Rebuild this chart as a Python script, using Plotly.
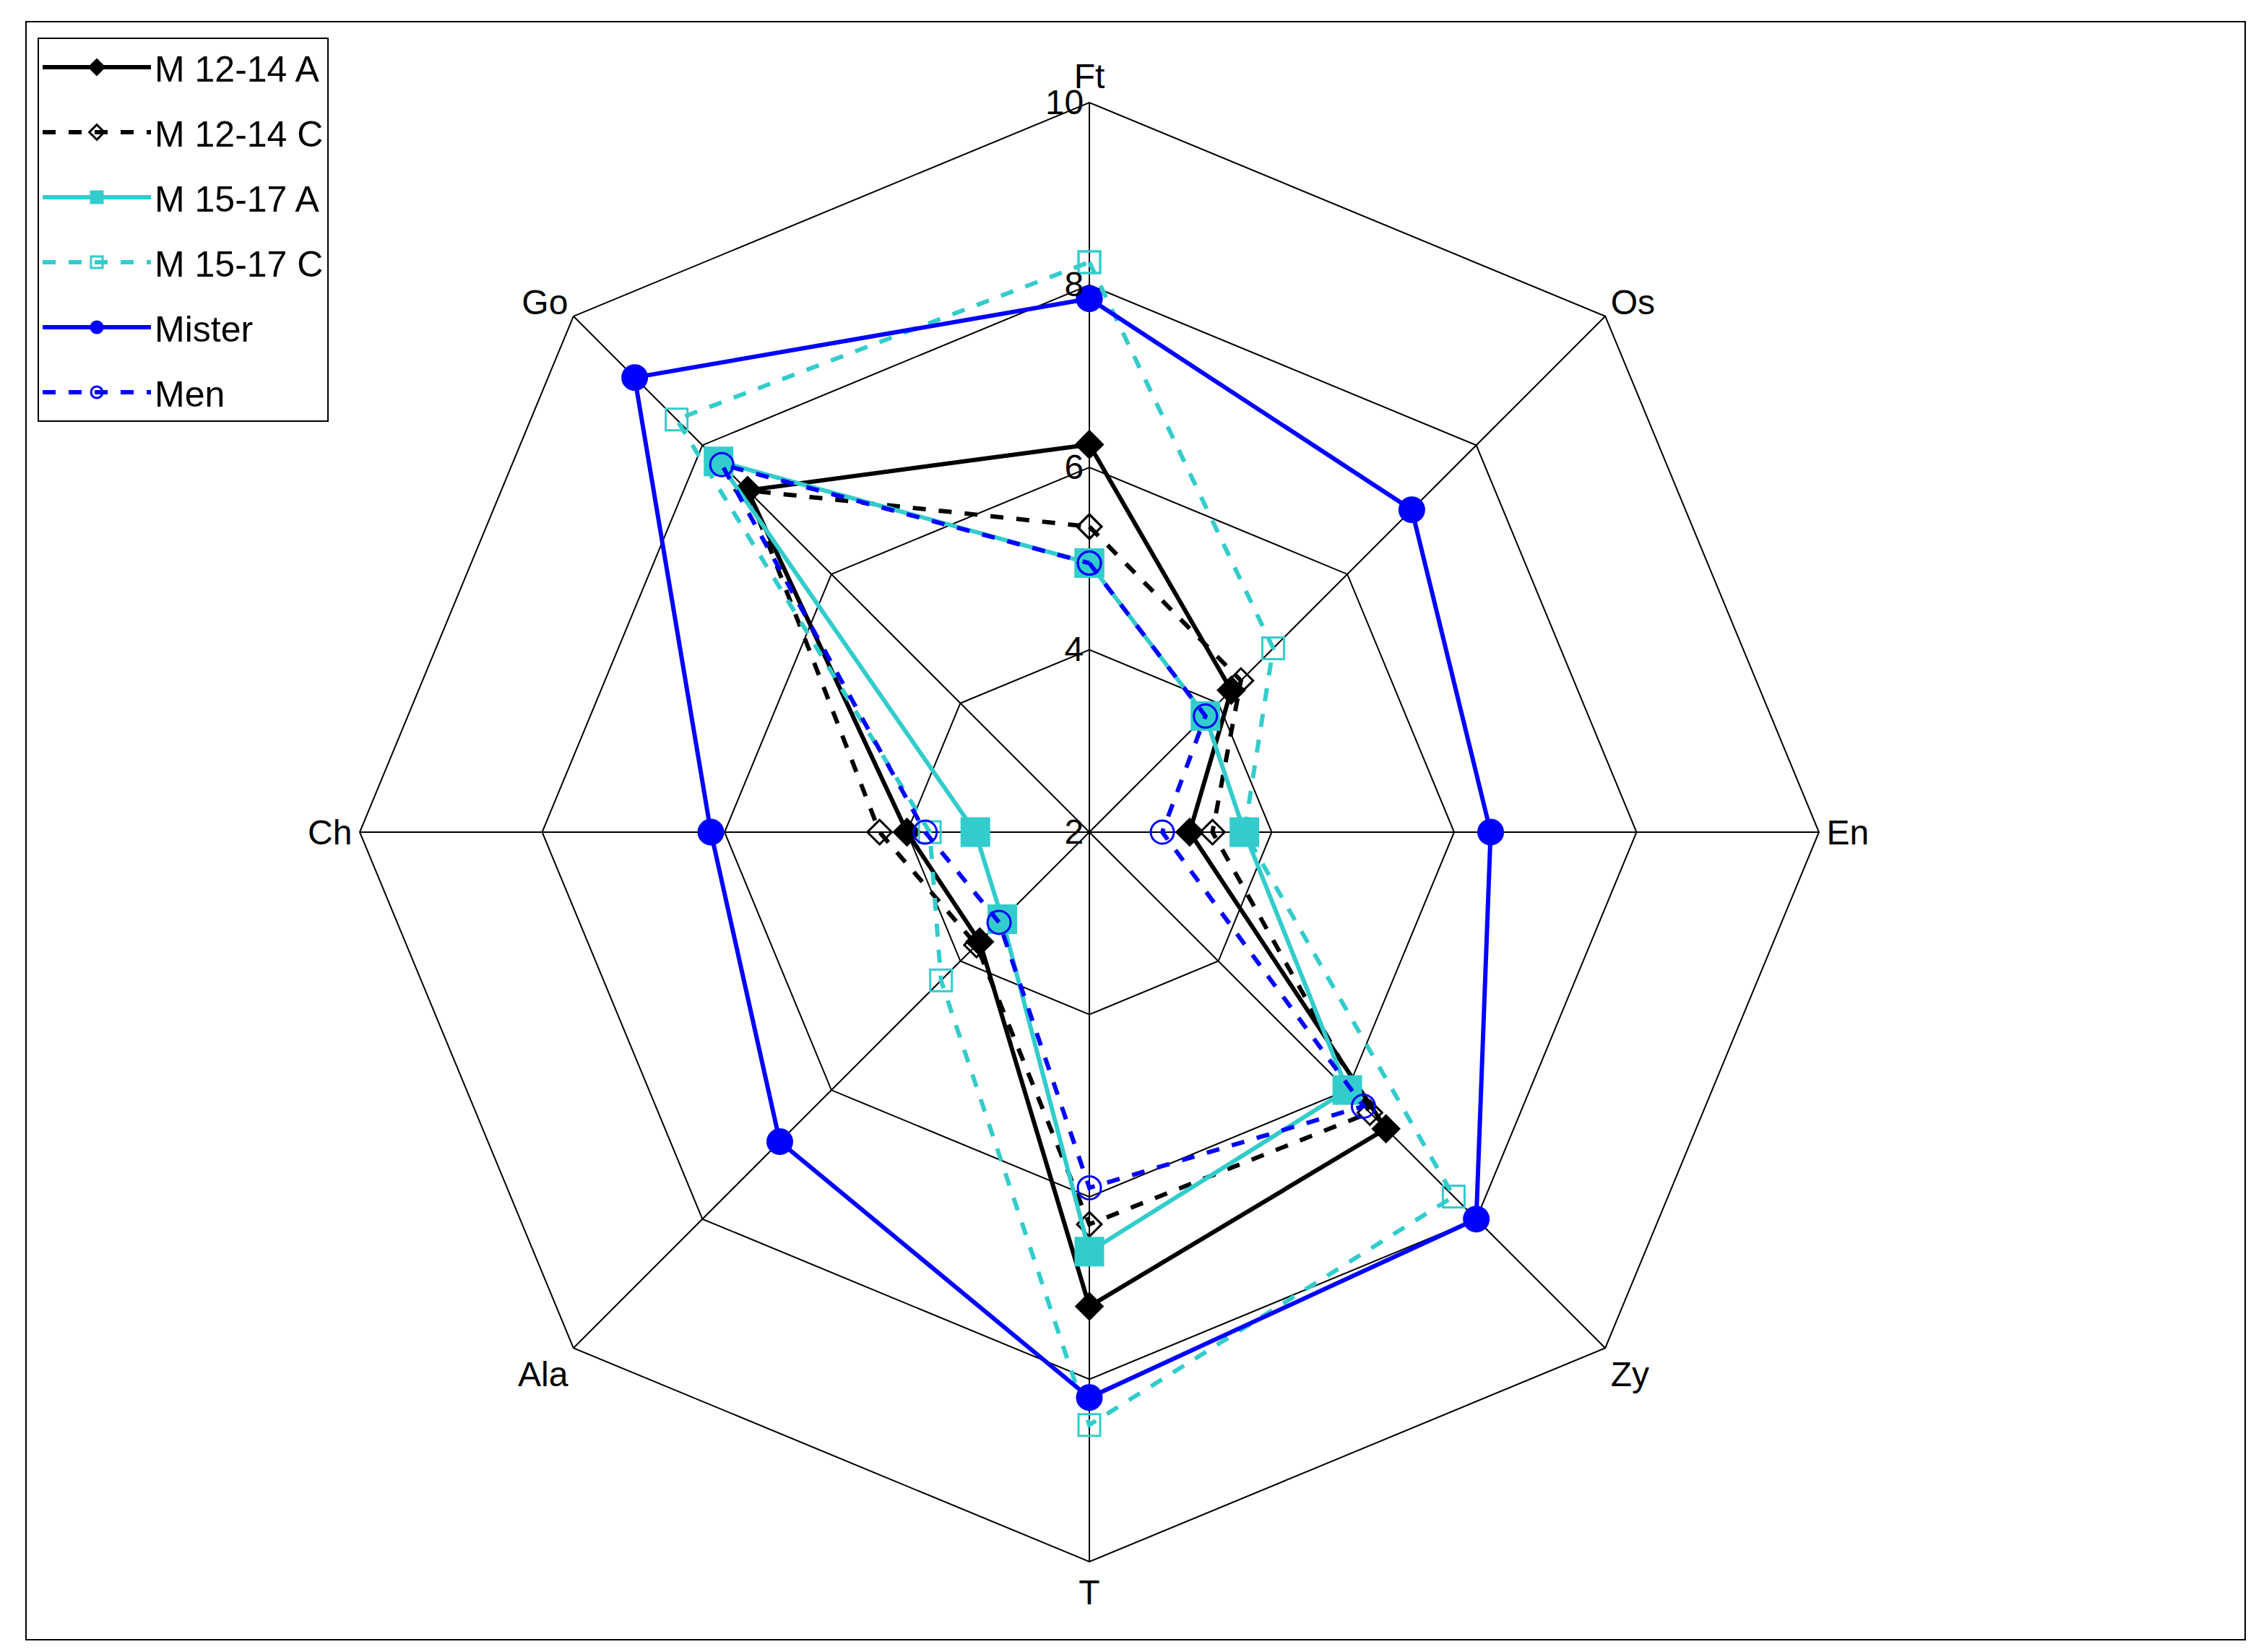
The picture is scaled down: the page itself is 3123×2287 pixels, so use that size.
import plotly.graph_objects as go

categories = ["Ft", "Os", "En", "Zy", "T", "Ala", "Ch", "Go"]
m1214a = [6.25, 4.2, 3.1, 6.6, 7.2, 3.7, 4.0, 7.3]
m1214c = [5.35, 4.35, 3.35, 6.35, 6.3, 3.75, 4.3, 7.3]
m1517a = [4.95, 3.8, 3.7, 6.0, 6.6, 3.35, 3.25, 7.75]
m1517c = [8.25, 4.85, 3.7, 7.65, 8.5, 4.3, 3.75, 8.4]
mister = [7.85, 7.0, 6.4, 8.0, 8.2, 6.8, 6.15, 9.05]
men = [4.95, 3.8, 2.8, 6.25, 5.9, 3.4, 3.8, 7.7]

CYAN = "#33CCCC"
BLUE = "#0000FF"
series = [
    ("M 12-14 A", m1214a, "black", "solid", "diamond", "black", 28),
    ("M 12-14 C", m1214c, "black", "dash", "diamond-open", "black", 26),
    ("M 15-17 A", m1517a, CYAN, "solid", "square", CYAN, 38),
    ("M 15-17 C", m1517c, CYAN, "dash", "square-open", CYAN, 30),
    ("Mister", mister, BLUE, "solid", "circle", BLUE, 34),
    ("Men", men, BLUE, "dash", "circle-open", BLUE, 32),
]

fig = go.Figure()
for name, vals, col, dash, sym, mc, ms in series:
    fig.add_trace(go.Scatterpolar(
        r=vals + vals[:1], theta=categories + categories[:1], name=name,
        legendgroup=name, mode="lines+markers",
        line=dict(color=col, dash=dash, width=6),
        marker=dict(symbol=sym, size=ms, color=mc, line=dict(color=mc, width=3)),
    ))

W, H = 3123, 2287
L, T, S = 490, 134, 2020
fig.update_layout(
    width=W, height=H,
    margin=dict(l=L, r=W - L - S, t=T, b=H - T - S),
    paper_bgcolor="white",
    font=dict(family="Liberation Sans, Arial", size=48, color="black"),
    polar=dict(
        bgcolor="white",
        gridshape="linear",
        angularaxis=dict(rotation=90, direction="clockwise", linecolor="black",
                         linewidth=2, gridcolor="black", gridwidth=2,
                         showticklabels=True, ticks="", tickfont=dict(size=48)),
        radialaxis=dict(range=[2, 10], tickvals=[2, 4, 6, 8, 10], angle=90,
                        tickangle=90, showline=False, gridcolor="black", gridwidth=2,
                        ticks="", tickfont=dict(size=48), side="counterclockwise"),
    ),
    legend=dict(x=(44 - L) / S, y=(T + S - 44) / S, xanchor="left", yanchor="top",
                bordercolor="black", borderwidth=2, bgcolor="white",
                font=dict(size=50), itemwidth=150, tracegroupgap=22,
                itemsizing="trace"),
    showlegend=True,
    shapes=[dict(type="rect", xref="paper", yref="paper",
                 x0=(28 - L) / S, x1=(3100 - L) / S,
                 y0=(T + S - 2262) / S, y1=(T + S - 22) / S,
                 line=dict(color="black", width=2))],
)
fig.write_html("out.html")
